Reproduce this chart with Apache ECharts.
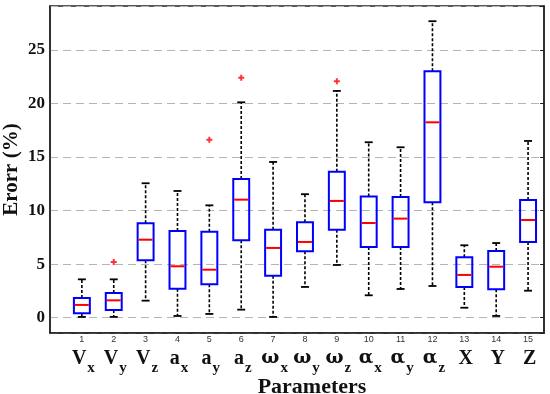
<!DOCTYPE html>
<html>
<head>
<meta charset="utf-8">
<script src="https://cdn.jsdelivr.net/npm/echarts@6/dist/echarts.min.js"></script>
<style>html,body{margin:0;padding:0;background:#fff;}#chart{width:550px;height:394px;}</style>
</head>
<body>
<div id="chart"></div>
<script>
// ---- data ----
var positions = [1, 2, 3, 4, 5, 6, 7, 8, 9, 10, 11, 12, 13, 14, 15];
var labelMain = ['V', 'V', 'V', 'a', 'a', 'a', 'ω', 'ω', 'ω', 'α', 'α', 'α', 'X', 'Y', 'Z'];
var labelSub  = ['x', 'y', 'z', 'x', 'y', 'z', 'x', 'y', 'z', 'x', 'y', 'z', '', '', ''];
var whiskerLow  = [0.07, 0.07, 1.59, 0.16, 0.35, 0.75, 0.07, 2.87, 4.92, 2.09, 2.68, 2.96, 0.93, 0.16, 2.52];
var q1          = [0.41, 0.72, 5.36, 2.71, 3.12, 7.23, 3.92, 6.20, 8.22, 6.60, 6.60, 10.77, 2.87, 2.65, 7.07];
var median      = [1.19, 1.62, 7.28, 4.80, 4.48, 11.02, 6.51, 7.07, 10.90, 8.84, 9.25, 18.24, 3.99, 4.76, 9.12];
var q3          = [1.84, 2.30, 8.81, 8.10, 8.03, 12.95, 8.22, 8.90, 13.63, 11.32, 11.27, 23.00, 5.64, 6.23, 10.99];
var whiskerHigh = [3.58, 3.58, 12.55, 11.83, 10.49, 20.11, 14.54, 11.53, 21.17, 16.38, 15.91, 27.68, 6.76, 6.97, 16.50];
var outlierX = [2, 5, 6, 9];
var outlierY = [5.20, 16.62, 22.41, 22.07];
var yTicks = [0, 5, 10, 15, 20, 25];

var boxData = positions.map(function (p, i) {
  return [p, whiskerLow[i], q1[i], median[i], q3[i], whiskerHigh[i]];
});
var outlierData = outlierX.map(function (x, i) { return [x, outlierY[i]]; });

var serif = "'Liberation Serif', 'DejaVu Serif', serif";
var chart = echarts.init(document.getElementById('chart'), null, {renderer: 'canvas'});

function renderBox(params, api) {
  var x = api.value(0);
  var pLo = api.coord([x, api.value(1)]);
  var pQ1 = api.coord([x, api.value(2)]);
  var pMd = api.coord([x, api.value(3)]);
  var pQ3 = api.coord([x, api.value(4)]);
  var pHi = api.coord([x, api.value(5)]);
  var half = api.size([0.5, 0])[0] / 2;
  var cap = api.size([0.25, 0])[0] / 2;
  var cx = pMd[0];
  var dash = {stroke: '#000', lineWidth: 1.6, lineDash: [3, 2]};
  var solid = {stroke: '#000', lineWidth: 1.8};
  return {
    type: 'group',
    children: [
      {type: 'line', shape: {x1: cx, y1: pQ3[1], x2: cx, y2: pHi[1]}, style: dash},
      {type: 'line', shape: {x1: cx, y1: pQ1[1], x2: cx, y2: pLo[1]}, style: dash},
      {type: 'line', shape: {x1: cx - cap, y1: pHi[1], x2: cx + cap, y2: pHi[1]}, style: solid},
      {type: 'line', shape: {x1: cx - cap, y1: pLo[1], x2: cx + cap, y2: pLo[1]}, style: solid},
      {type: 'rect', shape: {x: cx - half, y: pQ3[1], width: half * 2, height: pQ1[1] - pQ3[1]},
        style: {fill: 'rgba(0,0,0,0)', stroke: '#0000ff', lineWidth: 2}},
      {type: 'line', shape: {x1: cx - half + 1, y1: pMd[1], x2: cx + half - 1, y2: pMd[1]},
        style: {stroke: '#ff0000', lineWidth: 2}}
    ]
  };
}

var option = {
  backgroundColor: '#fff',
  animation: false,
  title: {
    text: 'Parameters',
    left: 312, top: 376, textAlign: 'center', padding: 0,
    textStyle: {fontFamily: serif, fontWeight: 'bold', fontSize: 22, color: '#111'}
  },
  grid: {left: 50, right: 6, top: 6, bottom: 61, outerBoundsMode: 'none', containLabel: false,
    show: true, borderColor: '#222', borderWidth: 1.5, backgroundColor: 'transparent'},
  xAxis: [{
    type: 'value', min: 0, max: 15.5, interval: 1,
    axisLine: {show: true, onZero: false, lineStyle: {color: '#222', width: 1.5}},
    axisTick: {show: false},
    splitLine: {show: false},
    axisLabel: {
      margin: 2, fontSize: 9, color: '#333', fontFamily: "'Liberation Sans', Arial, sans-serif",
      showMinLabel: false, showMaxLabel: false,
      formatter: function (v) { return (Number.isInteger(v) && v >= 1 && v <= 15) ? String(v) : ''; }
    }
  }, {
    type: 'value', min: 0, max: 15.5, interval: 1, position: 'bottom', offset: 16,
    axisLine: {show: false, onZero: false}, axisTick: {show: false}, splitLine: {show: false},
    axisLabel: {
      margin: 0,
      showMinLabel: false, showMaxLabel: false,
      formatter: function (v) {
        if (!(Number.isInteger(v) && v >= 1 && v <= 15)) return '';
        var i = positions.indexOf(v);
        if (i < 0) return '';
        var s = labelMain[i] === 'ω' || labelMain[i] === 'α' ? '{g|' + labelMain[i] + '}' : '{m|' + labelMain[i] + '}';
        if (labelSub[i]) s += '{s|' + labelSub[i] + '}';
        return s;
      },
      rich: {
        m: {fontFamily: serif, fontWeight: 'bold', fontSize: 20, color: '#111', verticalAlign: 'top', lineHeight: 20, padding: [0, 0, 0, 3]},
        g: {fontFamily: "'DejaVu Serif', serif", fontWeight: 'bold', fontSize: 19, color: '#111', verticalAlign: 'top', lineHeight: 20, padding: [0, 0, 0, 3]},
        s: {fontFamily: serif, fontWeight: 'bold', fontSize: 15, color: '#111', verticalAlign: 'bottom', lineHeight: 27, padding: [0, 0, 0, 1]}
      }
    }
  }],
  yAxis: [{
    type: 'value', min: -1.43, max: 29.1, splitNumber: 6,
    name: 'Erorr (%)', nameLocation: 'middle', nameGap: 28, nameRotate: 90, nameMoveOverlap: false,
    nameTextStyle: {fontFamily: serif, fontWeight: 'bold', fontSize: 21, color: '#111'},
    axisLine: {show: true, onZero: false, lineStyle: {color: '#222', width: 1.5}},
    axisTick: {show: false},
    splitLine: {show: true, lineStyle: {color: '#b4b4b4', width: 1.2, type: [8, 5]}},
    axisLabel: {
      margin: 5, fontFamily: serif, fontWeight: 'bold', fontSize: 17, color: '#111',
      showMinLabel: false, showMaxLabel: false,
      formatter: function (v) { return yTicks.indexOf(v) >= 0 ? String(v) : ''; }
    }
  }, {
    type: 'value', min: -1.43, max: 29.1, splitNumber: 6, position: 'right',
    axisLine: {show: true, onZero: false, lineStyle: {color: '#222', width: 1.5}},
    axisTick: {show: true, inside: true, length: 4, lineStyle: {color: '#222'}},
    splitLine: {show: false},
    axisLabel: {show: false}
  }],
  series: [{
    type: 'custom',
    xAxisIndex: 0, yAxisIndex: 0,
    renderItem: renderBox,
    encode: {x: 0, y: [1, 2, 3, 4, 5]},
    data: boxData,
    z: 3
  }, {
    type: 'scatter',
    xAxisIndex: 0, yAxisIndex: 0,
    symbol: 'path://M2,0h2v2h2v2h-2v2h-2v-2h-2v-2h2z',
    symbolSize: 6,
    itemStyle: {color: '#ff0000'},
    data: outlierData,
    z: 4
  }]
};
chart.setOption(option);
</script>
</body>
</html>
